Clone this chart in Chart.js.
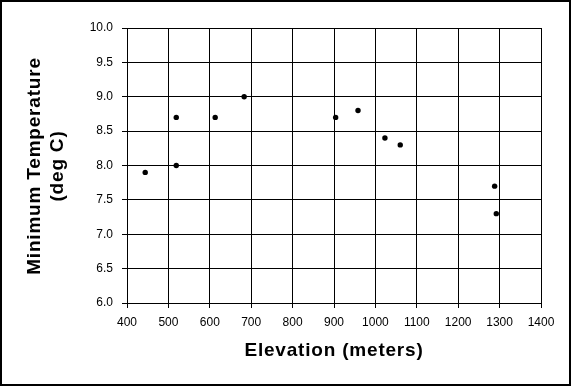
<!DOCTYPE html>
<html>
<head>
    <title>Minimum Temperature vs Elevation</title>
    <script src="https://cdn.jsdelivr.net/npm/chart.js"></script>
    <style>
        body { margin: 0; background: #fff; }
    </style>
</head>
<body>
    <canvas id="tempChart" width="572" height="387"></canvas>

    <script>
        // readings taken off the original chart
        const elevation = [444, 519, 519, 613, 683, 904, 958, 1023, 1060, 1288, 1292];
        const minTemp = [7.9, 8.0, 8.7, 8.7, 9.0, 8.7, 8.8, 8.4, 8.3, 7.7, 7.3];

        const xTitle = 'Elevation (meters)';
        const yTitle = ['Minimum Temperature', '(deg C)'];

        const fontFamily = "Arial, 'Liberation Sans', sans-serif";

        // frame + axis titles, drawn after the chart
        const decorPlugin = {
            id: 'decor',
            afterDraw(chart) {
                const ctx = chart.ctx;
                ctx.save();
                ctx.strokeStyle = '#000';
                ctx.lineWidth = 2;
                ctx.strokeRect(1, 1, 569, 384);

                ctx.fillStyle = '#000';
                ctx.font = 'bold 19px ' + fontFamily;
                ctx.letterSpacing = '0.8px';
                ctx.textAlign = 'center';
                ctx.textBaseline = 'middle';
                ctx.fillText(xTitle, 334, 351);

                ctx.translate(0, 166);
                ctx.rotate(-Math.PI / 2);
                ctx.fillText(yTitle[0], 0, 35);
                ctx.fillText(yTitle[1], 0, 58);
                ctx.restore();
            }
        };

        const ctx = document.getElementById('tempChart').getContext('2d');
        const tempChart = new Chart(ctx, {
            type: 'scatter',
            data: {
                datasets: [{
                    label: 'Minimum Temperature',
                    data: elevation.map((e, i) => ({ x: e, y: minTemp[i] })),
                    backgroundColor: '#000',
                    borderColor: '#000',
                    borderWidth: 0,
                    pointRadius: 2.7,
                    pointHoverRadius: 2.7
                }]
            },
            options: {
                responsive: false,
                animation: false,
                layout: {
                    padding: { left: 0, top: 28, right: 31, bottom: 0 }
                },
                plugins: {
                    legend: { display: false },
                    tooltip: { enabled: false }
                },
                scales: {
                    x: {
                        type: 'linear',
                        min: 400,
                        max: 1400,
                        afterFit: s => { s.height = 84; },
                        ticks: {
                            stepSize: 100,
                            padding: 7,
                            color: '#000',
                            font: { family: fontFamily, size: 12 },
                            callback: v => String(v)
                        },
                        grid: { color: '#000', lineWidth: 1, tickLength: 5 },
                        border: { color: '#000', width: 1 }
                    },
                    y: {
                        min: 6,
                        max: 10,
                        afterFit: s => { s.width = 127; },
                        ticks: {
                            stepSize: 0.5,
                            padding: 9,
                            color: '#000',
                            font: { family: fontFamily, size: 12 },
                            callback: v => v.toFixed(1)
                        },
                        grid: { color: '#000', lineWidth: 1, tickLength: 5 },
                        border: { color: '#000', width: 1 }
                    }
                }
            },
            plugins: [decorPlugin]
        });
    </script>
</body>
</html>
